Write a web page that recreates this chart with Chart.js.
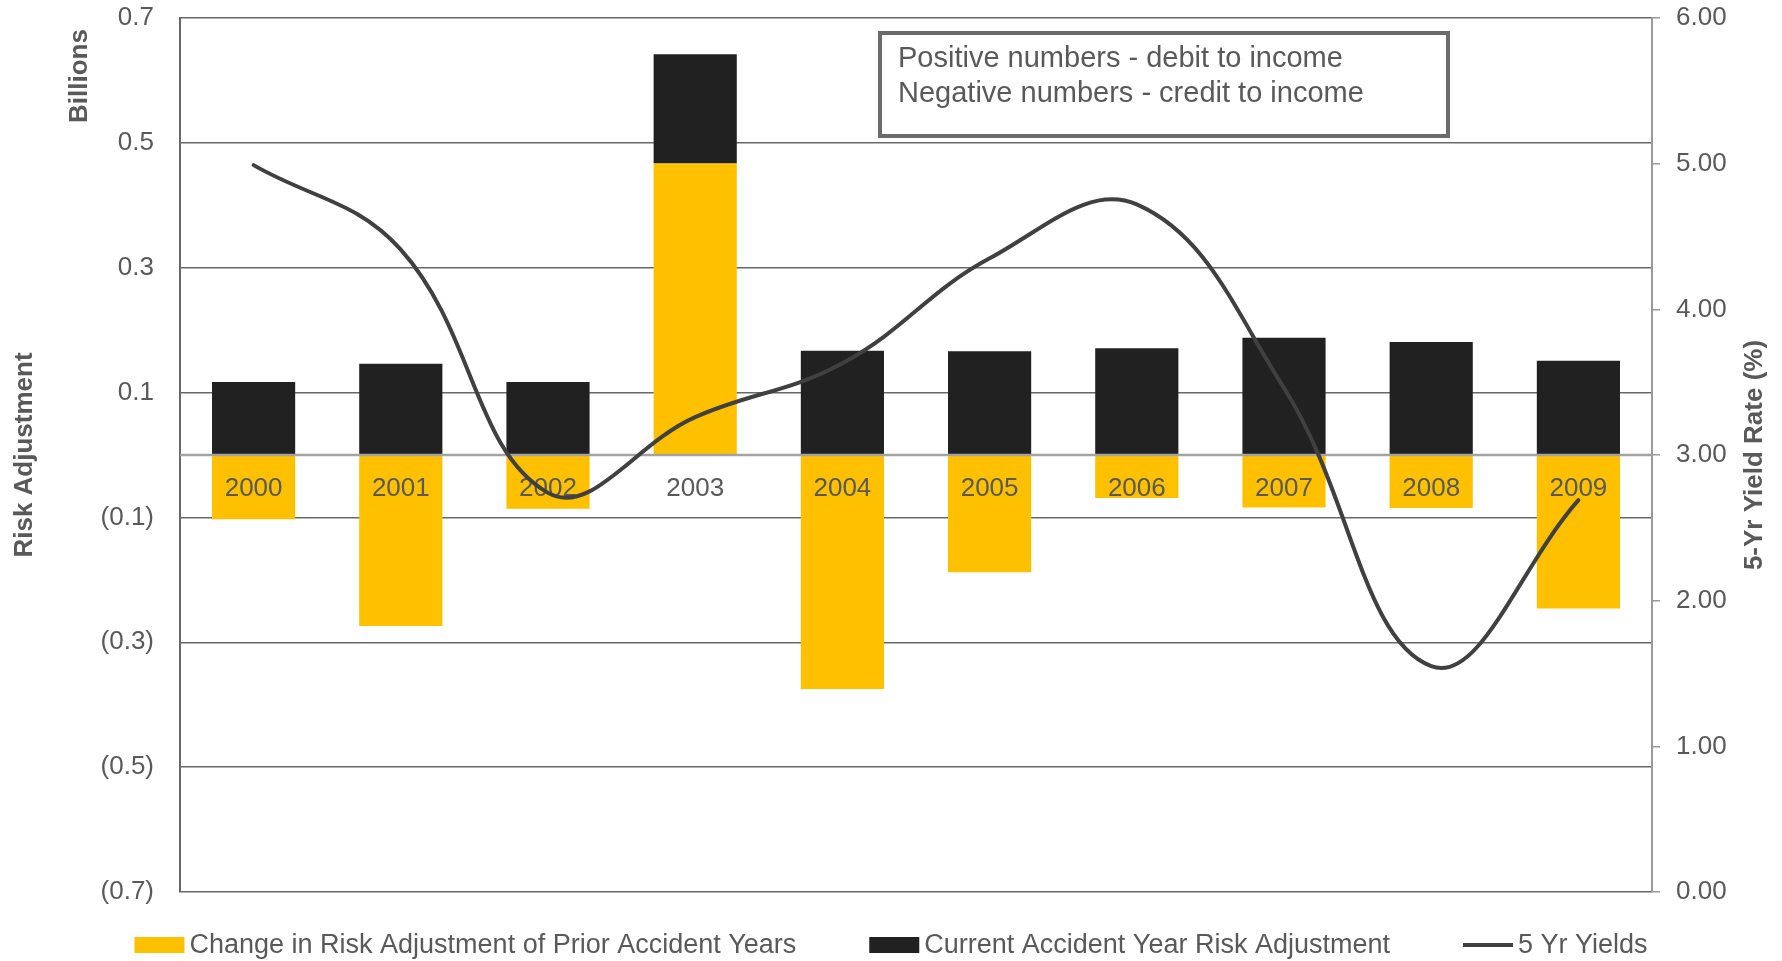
<!DOCTYPE html>
<html>
<head>
<meta charset="utf-8">
<title>Risk Adjustment vs 5 Yr Yields</title>
<script src="https://cdn.jsdelivr.net/npm/chart.js@4.4.1/dist/chart.umd.min.js"></script>
<style>
  html, body { margin: 0; padding: 0; background: #fff; }
  canvas { display: block; }
</style>
</head>
<body>
<canvas id="riskChart" width="1782" height="961"></canvas>
<script>
// accident years
const years = ['2000', '2001', '2002', '2003', '2004', '2005', '2006', '2007', '2008', '2009'];

// billions
const priorYearChange = [-0.103, -0.274, -0.086, 0.467, -0.375, -0.188, -0.069, -0.084, -0.085, -0.246];
const currentYearAdj = [0.117, 0.146, 0.117, 0.175, 0.167, 0.166, 0.171, 0.188, 0.181, 0.151];

// 5 year yield, percent
const fiveYrYields = [4.99, 4.41, 2.74, 3.26, 3.63, 4.35, 4.72, 3.46, 1.55, 2.69];

const noteLines = ['Positive numbers - debit to income', 'Negative numbers - credit to income'];

const FONT = '"Liberation Sans", Arial, sans-serif';
const TEXT = '#595959';

// left axis labels: negatives in brackets
function fmtBillions(v) {
    const s = Math.abs(v).toFixed(1);
    return v < 0 ? '(' + s + ')' : s;
}

// keep the plot box where the layout padding puts it
function fitAxis(width) {
    return s => {
        s.width = width;
        s.paddingTop = 0;
        s.paddingBottom = 0;
    };
}

// Zero line, year labels and the note box, drawn on top of the bars
const overlayPlugin = {
    id: 'overlay',
    beforeDatasetDraw(chart, args) {
        if (args.index !== 2) return;
        const ctx = chart.ctx;
        const x = chart.scales.x;
        const y = chart.scales.y;
        const area = chart.chartArea;
        const y0 = y.getPixelForValue(0);

        ctx.save();
        ctx.strokeStyle = '#a3a3a3';
        ctx.lineWidth = 2.5;
        ctx.beginPath();
        ctx.moveTo(area.left, y0);
        ctx.lineTo(area.right, y0);
        ctx.stroke();

        ctx.fillStyle = TEXT;
        ctx.font = '26px ' + FONT;
        ctx.textAlign = 'center';
        ctx.textBaseline = 'middle';
        years.forEach((yr, i) => {
            ctx.fillText(yr, x.getPixelForValue(i), y0 + 34);
        });
        ctx.restore();
    },
    afterDraw(chart) {
        const ctx = chart.ctx;
        ctx.save();

        // note box
        ctx.strokeStyle = '#6b6b6b';
        ctx.lineWidth = 4;
        ctx.strokeRect(880, 33, 568, 103);
        ctx.fillStyle = TEXT;
        ctx.font = '29px ' + FONT;
        ctx.textAlign = 'left';
        ctx.textBaseline = 'middle';
        ctx.fillText(noteLines[0], 898, 59);
        ctx.fillText(noteLines[1], 898, 94);

        // axis captions
        ctx.font = 'bold 26px ' + FONT;
        ctx.textAlign = 'center';
        ctx.save();
        ctx.translate(80, 76);
        ctx.rotate(-Math.PI / 2);
        ctx.fillText('Billions', 0, 0);
        ctx.restore();
        ctx.save();
        ctx.translate(1755, 455);
        ctx.rotate(-Math.PI / 2);
        ctx.fillText('5-Yr Yield Rate (%)', 0, 0);
        ctx.restore();

        // legend
        const items = chart.data.datasets.map(ds => ({
            text: ds.label,
            color: ds.type === 'line' ? ds.borderColor : ds.backgroundColor,
            line: ds.type === 'line'
        }));
        ctx.font = '27px ' + FONT;
        const boxW = 50, gap = 5, spacing = 73;
        const widths = items.map(it => boxW + gap + ctx.measureText(it.text).width);
        const total = widths.reduce((a, b) => a + b, 0) + spacing * (items.length - 1);
        let lx = (chart.width - total) / 2;
        const ly = 945;
        ctx.textAlign = 'left';
        items.forEach((it, i) => {
            if (it.line) {
                ctx.strokeStyle = it.color;
                ctx.lineWidth = 4;
                ctx.beginPath();
                ctx.moveTo(lx, ly);
                ctx.lineTo(lx + boxW, ly);
                ctx.stroke();
            } else {
                ctx.fillStyle = it.color;
                ctx.fillRect(lx, ly - 8, boxW, 16);
            }
            ctx.fillStyle = TEXT;
            ctx.fillText(it.text, lx + boxW + gap, ly + 1);
            lx += widths[i] + spacing;
        });
        ctx.restore();
    }
};

const ctx = document.getElementById('riskChart').getContext('2d');
const chart = new Chart(ctx, {
    data: {
        labels: years,
        datasets: [{
            type: 'bar',
            label: 'Change in Risk Adjustment of Prior Accident Years',
            data: priorYearChange,
            backgroundColor: '#FFC000',
            yAxisID: 'y',
            order: 1
        }, {
            type: 'bar',
            label: 'Current Accident Year Risk Adjustment',
            data: currentYearAdj,
            backgroundColor: '#212121',
            yAxisID: 'y',
            order: 2
        }, {
            type: 'line',
            label: '5 Yr Yields',
            data: fiveYrYields,
            borderColor: '#404040',
            backgroundColor: '#404040',
            borderWidth: 4,
            borderCapStyle: 'round',
            pointRadius: 0,
            tension: 0.4,
            yAxisID: 'y1',
            order: 0
        }]
    },
    options: {
        responsive: false,
        devicePixelRatio: 1,
        animation: false,
        layout: { padding: { top: 18, bottom: 69, left: 0, right: 0 } },
        datasets: {
            bar: { categoryPercentage: 1, barPercentage: 0.565, stack: 'risk' }
        },
        plugins: {
            legend: { display: false },
            tooltip: { enabled: false }
        },
        scales: {
            x: {
                display: false,
                stacked: true,
                offset: true
            },
            y: {
                position: 'left',
                stacked: true,
                min: -0.7,
                max: 0.7,
                afterFit: fitAxis(180),
                ticks: {
                    stepSize: 0.2,
                    padding: 26,
                    color: TEXT,
                    font: { family: FONT, size: 26 },
                    callback: v => fmtBillions(v)
                },
                grid: {
                    color: '#686868',
                    lineWidth: 1.5,
                    drawTicks: false
                },
                border: { color: '#686868', width: 2 },
                title: {
                    display: true,
                    text: 'Risk Adjustment',
                    color: TEXT,
                    font: { family: FONT, size: 26, weight: 'bold' },
                    padding: { top: 9, bottom: 0 }
                }
            },
            y1: {
                position: 'right',
                min: 0,
                max: 6,
                afterFit: fitAxis(130),
                ticks: {
                    stepSize: 1,
                    padding: 16,
                    color: TEXT,
                    font: { family: FONT, size: 26 },
                    callback: v => v.toFixed(2)
                },
                grid: {
                    drawOnChartArea: false,
                    color: '#9a9a9a',
                    tickLength: 8,
                    lineWidth: 1.5
                },
                border: { color: '#9a9a9a', width: 2 }
            }
        }
    },
    plugins: [overlayPlugin]
});
</script>
</body>
</html>
